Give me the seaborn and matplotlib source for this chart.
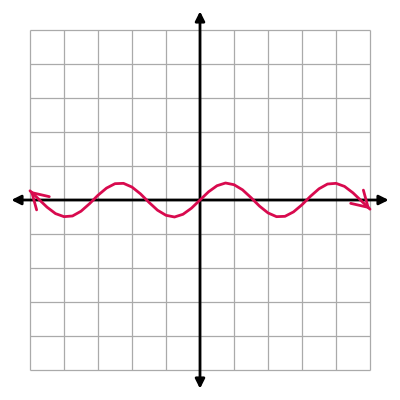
import matplotlib
matplotlib.use("Agg")
import matplotlib.pyplot as plt
import seaborn as sns
import pandas as pd

# curve values, step 0.25 units
xs = [-5.0, -4.75, -4.5, -4.25, -4.0, -3.75, -3.5, -3.25, -3.0, -2.75,
      -2.5, -2.25, -2.0, -1.75, -1.5, -1.25, -1.0, -0.75, -0.5, -0.25,
      0.0, 0.25, 0.5, 0.75, 1.0, 1.25, 1.5, 1.75, 2.0, 2.25,
      2.5, 2.75, 3.0, 3.25, 3.5, 3.75, 4.0, 4.25, 4.5, 4.75, 5.0]
ys = [0.27, 0.03, -0.21, -0.40, -0.49, -0.47, -0.33, -0.11, 0.14, 0.35,
      0.48, 0.49, 0.38, 0.18, -0.07, -0.30, -0.45, -0.50, -0.42, -0.24,
      0.0, 0.24, 0.42, 0.50, 0.45, 0.30, 0.07, -0.18, -0.38, -0.49,
      -0.48, -0.35, -0.14, 0.11, 0.33, 0.47, 0.49, 0.40, 0.21, -0.03, -0.27]
grid_vals = list(range(-5, 6))

df = pd.DataFrame({"x": xs, "y": ys})
curve_color = "#D80A4E"

sns.set_style("white")
fig = plt.figure(figsize=(4, 4), dpi=100)
ax = fig.add_axes([0, 0, 1, 1])
lim = 200 / 34
ax.set_xlim(-lim, lim)
ax.set_ylim(-lim, lim)
ax.set_aspect("equal")
ax.axis("off")

# grid
ax.vlines(grid_vals, -5, 5, color="#aaaaaa", lw=0.9, zorder=1)
ax.hlines(grid_vals, -5, 5, color="#aaaaaa", lw=0.9, zorder=1)

# axes with arrows
ext = 5.55
ax.annotate("", xy=(ext, 0), xytext=(-ext, 0),
            arrowprops=dict(arrowstyle="<|-|>", color="black", lw=2,
                            mutation_scale=14, shrinkA=0, shrinkB=0), zorder=3)
ax.annotate("", xy=(0, ext), xytext=(0, -ext),
            arrowprops=dict(arrowstyle="<|-|>", color="black", lw=2,
                            mutation_scale=14, shrinkA=0, shrinkB=0), zorder=3)

# curve
sns.lineplot(data=df, x="x", y="y", ax=ax, color=curve_color, lw=2,
             sort=False, zorder=4)
for a, b in [(0, 1), (-1, -2)]:
    ax.annotate("", xy=(xs[a], ys[a]),
                xytext=(xs[b] + (xs[a] - xs[b]) * 0.6, ys[b] + (ys[a] - ys[b]) * 0.6),
                arrowprops=dict(arrowstyle="->,head_length=0.5,head_width=0.3",
                                color=curve_color, lw=2,
                                mutation_scale=22, shrinkA=0, shrinkB=0), zorder=4)

fig.savefig("out.png", dpi=100)
